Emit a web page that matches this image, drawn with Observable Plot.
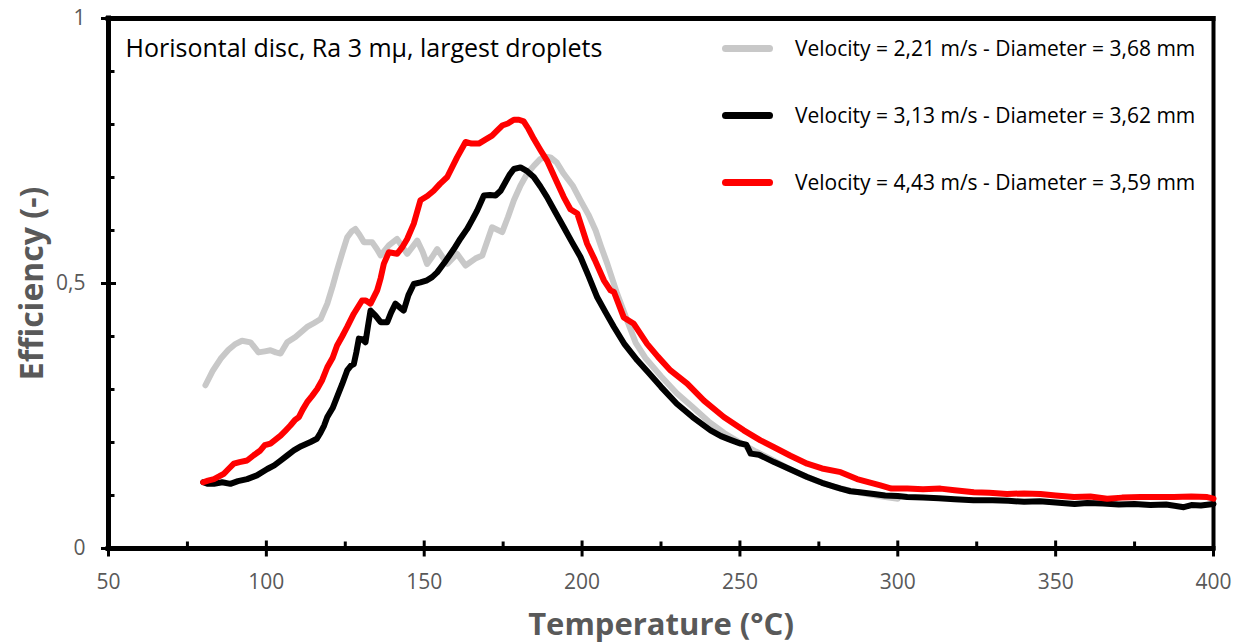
<!DOCTYPE html>
<html><head><meta charset="utf-8">
<script src="https://cdn.jsdelivr.net/npm/d3@7"></script>
<script src="https://cdn.jsdelivr.net/npm/@observablehq/plot@0.6"></script>
<style>
body{margin:0;background:#fff;}
#wrap{position:relative;width:1244px;height:642px;font-family:"Open Sans",sans-serif;}
#legend{position:absolute;left:722px;top:0;width:500px;}
.item{position:absolute;left:0;height:30px;display:flex;align-items:center;font-size:21px;color:#000;white-space:nowrap;}
.swatch{display:inline-block;width:51px;height:7px;border-radius:4px;margin-right:22px;}
</style></head><body><div id="wrap"><div id="legend"></div></div>
<script>
const chartTitle = "Horisontal disc, Ra 3 mμ, largest droplets";
const xLabel = "Temperature (°C)";
const yLabel = "Efficiency (-)";
const xMajor = [50, 100, 150, 200, 250, 300, 350, 400];
const xMinor = [75, 125, 175, 225, 275, 325, 375];
const yMajor = [0, 0.5, 1];
const yMinor = [0.1, 0.2, 0.3, 0.4, 0.6, 0.7, 0.8, 0.9];
const seriesNames = [
  "Velocity = 2,21 m/s - Diameter = 3,68 mm",
  "Velocity = 3,13 m/s - Diameter = 3,62 mm",
  "Velocity = 4,43 m/s - Diameter = 3,59 mm"
];
const seriesColors = ["#c8c8c8", "#000000", "#ff0000"];

const grayT = [80.7, 83, 85.5, 88, 90, 92.3, 95, 97.5, 99.5, 101.3, 103, 104.5, 106.6, 109.2, 112.9, 115, 117.2, 119.3, 121, 122.4, 124, 125.6, 127, 128.2, 129.5, 130.9, 133.5, 135, 136.2, 138.8, 141.4, 143, 144.6, 147.8, 149.5, 150.9, 152.5, 154.1, 157.3, 160.4, 163.1, 166.2, 168.4, 171.5, 174.7, 176.5, 178.4, 180.5, 182.6, 184.7, 186.8, 188.5, 190, 192, 194.2, 197, 199.5, 202, 204.3, 206, 208, 211.1, 214.3, 217, 220, 225, 230, 235, 240, 245, 250, 255, 260, 265, 270, 275, 280, 285, 290, 295, 300];
const grayE = [0.308, 0.335, 0.358, 0.375, 0.385, 0.392, 0.389, 0.370, 0.372, 0.374, 0.370, 0.368, 0.389, 0.399, 0.418, 0.425, 0.433, 0.462, 0.495, 0.525, 0.557, 0.587, 0.598, 0.603, 0.592, 0.578, 0.578, 0.565, 0.553, 0.572, 0.584, 0.570, 0.556, 0.581, 0.560, 0.537, 0.550, 0.565, 0.537, 0.556, 0.534, 0.547, 0.553, 0.606, 0.597, 0.625, 0.657, 0.685, 0.707, 0.722, 0.735, 0.739, 0.738, 0.728, 0.707, 0.685, 0.657, 0.630, 0.600, 0.570, 0.537, 0.481, 0.430, 0.388, 0.360, 0.325, 0.293, 0.267, 0.240, 0.218, 0.200, 0.183, 0.168, 0.152, 0.138, 0.126, 0.116, 0.109, 0.103, 0.098, 0.094];

const blackT = [80, 81.5, 83.4, 86, 88.6, 91, 93.9, 97, 100.3, 102.5, 104.5, 106.5, 108.7, 111, 114, 116, 117.2, 118.3, 119.3, 121, 122.4, 124, 125.6, 126.8, 127.7, 128.5, 129.3, 130.3, 131.4, 132.2, 133, 134.5, 136.2, 138.3, 139.5, 140.9, 142.2, 143.5, 145, 146.7, 148.8, 150.9, 152.5, 154.1, 156.5, 159.4, 161.5, 163.6, 165.2, 166.8, 168.9, 170.8, 172.6, 174.2, 175.7, 177, 178.4, 180.5, 182.6, 184.7, 186.8, 188.9, 191.5, 194.2, 196.8, 199.5, 202, 204.8, 207.5, 210.1, 213.5, 217.5, 221, 225, 230, 235, 240.7, 244, 247, 250.2, 252, 253.4, 256, 260.8, 265, 271.3, 276, 281.9, 285, 288, 292.4, 296, 300, 303, 308, 313, 318, 324, 330, 335, 340, 345, 350, 356, 360, 365, 370, 375, 380, 385, 390.6, 393, 396, 400];
const blackE = [0.125, 0.122, 0.122, 0.125, 0.122, 0.127, 0.131, 0.138, 0.150, 0.157, 0.166, 0.175, 0.185, 0.193, 0.201, 0.207, 0.219, 0.232, 0.248, 0.265, 0.286, 0.310, 0.336, 0.345, 0.348, 0.370, 0.396, 0.395, 0.389, 0.420, 0.449, 0.440, 0.427, 0.427, 0.445, 0.462, 0.455, 0.449, 0.478, 0.499, 0.502, 0.506, 0.512, 0.521, 0.540, 0.565, 0.585, 0.603, 0.620, 0.638, 0.666, 0.667, 0.666, 0.675, 0.691, 0.705, 0.716, 0.719, 0.712, 0.701, 0.683, 0.663, 0.635, 0.606, 0.578, 0.550, 0.515, 0.474, 0.445, 0.418, 0.385, 0.355, 0.332, 0.305, 0.273, 0.248, 0.223, 0.212, 0.205, 0.198, 0.196, 0.179, 0.177, 0.163, 0.152, 0.135, 0.124, 0.113, 0.108, 0.106, 0.103, 0.100, 0.099, 0.097, 0.096, 0.095, 0.093, 0.091, 0.091, 0.090, 0.088, 0.089, 0.087, 0.084, 0.086, 0.085, 0.083, 0.084, 0.082, 0.083, 0.078, 0.082, 0.081, 0.084];

const redT = [80, 81.5, 83.4, 85, 86.5, 88, 89.7, 91.5, 93.9, 96, 98.1, 99.5, 101.3, 103, 104.5, 106, 107.6, 109, 110.3, 111.5, 112.9, 114.5, 116.1, 117.7, 119.3, 121, 122.4, 124, 125.6, 127.7, 130.3, 131.5, 133, 135.1, 136.2, 137.2, 138.8, 141.4, 143, 144.6, 146.7, 148.8, 151, 153, 155, 157.3, 160.4, 163.1, 165, 167.3, 169.5, 171.5, 173, 174.7, 176.5, 178.4, 180, 181.5, 183, 184.7, 186.8, 188.9, 191.5, 194.2, 196.3, 198.5, 201.6, 204, 206.9, 209, 210.1, 213.2, 216.4, 220.6, 224, 228, 233.3, 238.6, 244.9, 251.2, 256.5, 260.8, 266, 271.3, 276, 281.9, 287.1, 294.5, 298, 303, 308, 313.5, 318, 324.1, 329, 334.6, 340, 345.2, 350, 355.8, 361, 366.3, 371, 376.9, 382, 387.4, 393, 398, 400];
const redE = [0.125, 0.128, 0.131, 0.136, 0.141, 0.150, 0.160, 0.163, 0.166, 0.176, 0.185, 0.195, 0.198, 0.206, 0.213, 0.222, 0.232, 0.242, 0.248, 0.262, 0.276, 0.288, 0.301, 0.318, 0.342, 0.360, 0.383, 0.400, 0.418, 0.443, 0.468, 0.468, 0.462, 0.487, 0.510, 0.537, 0.559, 0.556, 0.568, 0.584, 0.613, 0.657, 0.665, 0.675, 0.688, 0.701, 0.738, 0.767, 0.764, 0.764, 0.772, 0.779, 0.788, 0.798, 0.802, 0.809, 0.809, 0.806, 0.792, 0.773, 0.752, 0.732, 0.698, 0.663, 0.640, 0.632, 0.575, 0.545, 0.506, 0.487, 0.484, 0.436, 0.424, 0.386, 0.362, 0.336, 0.311, 0.279, 0.248, 0.223, 0.204, 0.191, 0.175, 0.160, 0.151, 0.144, 0.131, 0.119, 0.113, 0.113, 0.112, 0.113, 0.110, 0.106, 0.105, 0.103, 0.104, 0.103, 0.100, 0.097, 0.098, 0.094, 0.096, 0.097, 0.097, 0.097, 0.098, 0.097, 0.094];

const toRows = (T, E) => T.map((t, i) => ({t, e: E[i]}));
const seriesData = [toRows(grayT, grayE), toRows(blackT, blackE), toRows(redT, redE)];

const tickGray = "#595959";
const font = '"Open Sans", sans-serif';

const chart = Plot.plot({
  width: 1244, height: 642,
  marginLeft: 108, marginRight: 31, marginTop: 18, marginBottom: 94,
  x: {domain: [50, 400]},
  y: {domain: [0, 1]},
  style: {fontFamily: font, background: "#fff", overflow: "visible"},
  marks: [
    Plot.ruleY([1], {stroke: "#000", strokeWidth: 5, strokeLinecap: "square"}),
    Plot.ruleX([400], {stroke: "#000", strokeWidth: 4, strokeLinecap: "square"}),
    ...seriesData.map((d, i) => Plot.line(d, {x: "t", y: "e", stroke: seriesColors[i], strokeWidth: 6, strokeLinejoin: "round", strokeLinecap: "round"})),
    Plot.ruleX([50], {stroke: "#000", strokeWidth: 5, strokeLinecap: "square"}),
    Plot.ruleY([0], {stroke: "#000", strokeWidth: 5, strokeLinecap: "square"}),
    Plot.vector(xMinor, {x: d => d, frameAnchor: "bottom", rotate: 0, length: 7, anchor: "start", r: 0, stroke: "#000", strokeWidth: 3, strokeLinecap: "butt"}),
    Plot.vector(xMajor, {x: d => d, frameAnchor: "bottom", rotate: 0, length: 16, anchor: "middle", r: 0, stroke: "#000", strokeWidth: 3, strokeLinecap: "butt"}),
    Plot.vector(yMinor, {y: d => d, frameAnchor: "left", rotate: 90, length: 6, anchor: "start", r: 0, stroke: "#000", strokeWidth: 3, strokeLinecap: "butt"}),
    Plot.vector(yMajor, {y: d => d, frameAnchor: "left", rotate: 90, length: 15, anchor: "middle", r: 0, stroke: "#000", strokeWidth: 3, strokeLinecap: "butt"}),
    Plot.axisX({ticks: xMajor, tickSize: 0, tickPadding: 26, fontSize: 21, fill: tickGray, label: null, tickFormat: d => String(d)}),
    Plot.axisY({ticks: yMajor, tickSize: 0, tickPadding: 23, fontSize: 21, fill: tickGray, label: null, tickFormat: d => String(d).replace(".", ",")}),
    Plot.text([xLabel], {text: d => d, frameAnchor: "bottom", dy: 77, lineAnchor: "middle", textAnchor: "middle", fontSize: 31, fontWeight: 700, fill: tickGray}),
    Plot.text([yLabel], {text: d => d, frameAnchor: "left", dx: -76, rotate: -90, lineAnchor: "middle", textAnchor: "middle", fontSize: 32, fontWeight: 700, fill: tickGray}),
    Plot.text([chartTitle], {text: d => d, frameAnchor: "top-left", dx: 17, dy: 30, lineAnchor: "middle", textAnchor: "start", fontSize: 25, fill: "#000"})
  ]
});
const wrap = document.getElementById("wrap");
wrap.insertBefore(chart, wrap.firstChild);

const legend = document.getElementById("legend");
const legendY = [48, 115, 182];
seriesNames.forEach((name, i) => {
  const item = document.createElement("div");
  item.className = "item";
  item.style.top = (legendY[i] - 15) + "px";
  const sw = document.createElement("span");
  sw.className = "swatch";
  sw.style.background = seriesColors[i];
  item.appendChild(sw);
  item.appendChild(document.createTextNode(name));
  legend.appendChild(item);
});
</script>
</body></html>
